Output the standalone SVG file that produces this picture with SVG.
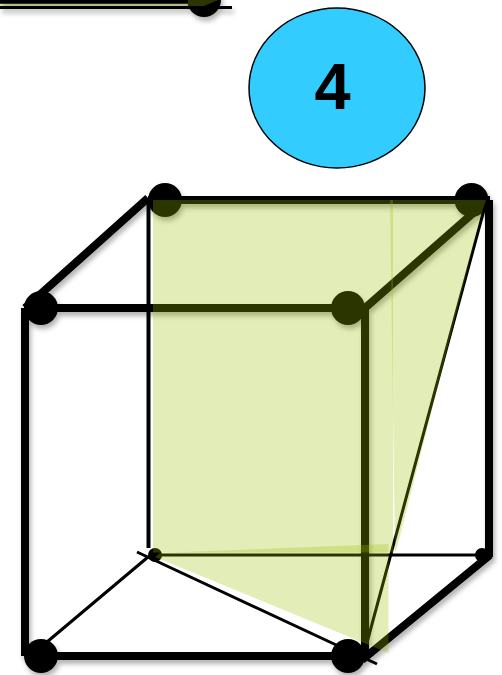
<svg xmlns="http://www.w3.org/2000/svg" width="502" height="675" viewBox="0 0 502 675">
<style>
.k{stroke:#000;fill:none}
.th{stroke-width:8}
.tn{stroke-width:3}
.g{fill:#9bbe00;fill-opacity:.28;stroke:none}
</style>
<defs>
<filter id="s" x="-20%" y="-20%" width="140%" height="140%" filterUnits="objectBoundingBox" primitiveUnits="userSpaceOnUse"><feDropShadow dx="2" dy="4" stdDeviation="2.500" flood-color="#000" flood-opacity=".3"/></filter>
</defs>
<rect width="502" height="675" fill="#fff"/>
<g id="connectors">
<g filter="url(#s)">
<path class="k th" d="M0 0H204M148 200H490M25 308H365M25 656H365M25 308V656M365 308V652M489 200V557M148 198L25 308M488 200L365 308M490 555L362 660"/>
<path class="k tn" d="M0 7.500H232"/>
<circle cx="204" cy="0" r="17"/>
<circle cx="165" cy="200" r="17"/>
<circle cx="471.500" cy="200" r="17"/>
<circle cx="41" cy="308" r="17"/>
<circle cx="348" cy="308" r="17"/>
<circle cx="41" cy="656" r="17"/>
<circle cx="348" cy="656" r="17"/>
</g>
<path class="k" stroke-width="4" d="M148.500 200V548"/>
<path class="k tn" d="M155 555H482M148 557L41 647M137 552L377 664M485 206L365 650"/>
</g>
<g id="node-back-bottom-left"><circle cx="155" cy="555" r="7"/></g>
<g id="node-back-bottom-right"><circle cx="482" cy="555" r="7"/></g>
<g id="faces">
<rect class="g" x="0" y="3" width="188" height="3"/>
<path class="g" d="M188 0H218L204 6H188Z"/>
<path class="g" d="M153 200H393V552.500H153Z"/>
<path class="g" d="M155 557L160 553L388.500 544V653Z" fill-opacity=".26"/>
<path class="g" d="M390 200H486L481 215L397 548L395 552Z"/>
</g>
<g id="node-4">
<ellipse cx="337" cy="88" rx="88" ry="80" fill="#33ccff" stroke="#000" stroke-width="1.500"/>
<text x="332.500" y="109" text-anchor="middle" font-family="Liberation Sans, Arial, sans-serif" font-weight="700" font-size="65">4</text>
</g>
</svg>
